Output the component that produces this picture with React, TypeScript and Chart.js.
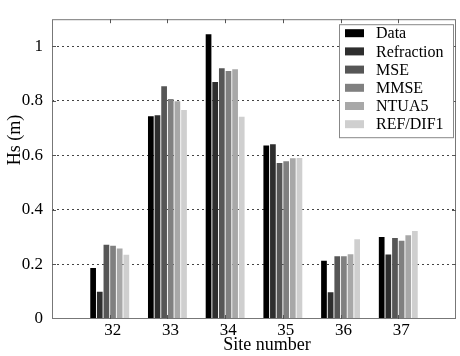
import { useEffect, useRef } from "react";
import { Chart, registerables } from "chart.js";

Chart.register(...registerables);

const sites = [32, 33, 34, 35, 36, 37];
const seriesNames = ["Data", "Refraction", "MSE", "MMSE", "NTUA5", "REF/DIF1"];
const dataValues = [0.187, 0.744, 1.045, 0.637, 0.214, 0.301];
const refractionValues = [0.1, 0.748, 0.87, 0.641, 0.098, 0.237];
const mseValues = [0.272, 0.854, 0.92, 0.572, 0.23, 0.297];
const mmseValues = [0.269, 0.807, 0.91, 0.579, 0.23, 0.287];
const ntua5Values = [0.259, 0.799, 0.916, 0.59, 0.238, 0.307];
const refdifValues = [0.236, 0.767, 0.742, 0.591, 0.293, 0.323];
const seriesColors = ["#000000", "#2e2e2e", "#565656", "#808080", "#a8a8a8", "#cfcfcf"];
const xTitle = "Site number";
const yTitle = "Hs (m)";

const FONT = "'Liberation Serif', 'DejaVu Serif', serif";

const overlayPlugin = {
  id: "overlay",
  afterDraw(chart: any) {
    const ctx = chart.ctx;
    const { left, right, top, bottom } = chart.chartArea;
    ctx.save();
    // frame
    ctx.strokeStyle = "#777";
    ctx.lineWidth = 1;
    ctx.strokeRect(left + 0.5, top + 0.5, right - left - 1, bottom - top - 1);
    // inward ticks
    ctx.strokeStyle = "#555";
    const ys = chart.scales.y;
    const xs = chart.scales.x;
    ys.ticks.forEach((t: any) => {
      if (t.value <= 0 || t.value > 1.05) return;
      const py = Math.round(ys.getPixelForValue(t.value)) + 0.5;
      ctx.beginPath();
      ctx.moveTo(left, py);
      ctx.lineTo(left + 4, py);
      ctx.moveTo(right, py);
      ctx.lineTo(right - 4, py);
      ctx.stroke();
    });
    sites.forEach((s) => {
      const px = Math.round(xs.getPixelForValue(s)) + 0.5;
      ctx.beginPath();
      ctx.moveTo(px, top);
      ctx.lineTo(px, top + 4);
      ctx.moveTo(px, bottom);
      ctx.lineTo(px, bottom - 4);
      ctx.stroke();
    });
    // legend
    const bx = right - 117;
    const by = top + 5;
    const bw = 115;
    const bh = 114;
    ctx.fillStyle = "#fff";
    ctx.fillRect(bx, by, bw, bh);
    ctx.strokeStyle = "#888";
    ctx.strokeRect(bx + 0.5, by + 0.5, bw - 1, bh - 1);
    ctx.font = `16px ${FONT}`;
    ctx.textBaseline = "middle";
    ctx.textAlign = "left";
    chart.data.datasets.forEach((ds: any, i: number) => {
      const cy = by + 9 + i * 18.2;
      ctx.fillStyle = ds.backgroundColor;
      ctx.fillRect(bx + 6, cy - 4, 19, 8);
      ctx.fillStyle = "#000";
      ctx.fillText(ds.label, bx + 37, cy + 1);
    });
    // axis titles
    ctx.fillStyle = "#000";
    ctx.font = `18px ${FONT}`;
    ctx.textAlign = "center";
    ctx.textBaseline = "alphabetic";
    ctx.fillText(xTitle, (left + right) / 2 + 13, 350);
    ctx.translate(20, 140);
    ctx.rotate(-Math.PI / 2);
    ctx.fillText(yTitle, 0, 0);
    ctx.restore();
  },
};

export default function App() {
  const ref = useRef<HTMLCanvasElement | null>(null);
  useEffect(() => {
    document.body.style.margin = "0";
    const seriesValues = [dataValues, refractionValues, mseValues, mmseValues, ntua5Values, refdifValues];
    const chart = new Chart(ref.current as HTMLCanvasElement, {
      type: "bar",
      data: {
        datasets: seriesNames.map((name, i) => ({
          label: name,
          data: sites.map((s, j) => ({ x: s, y: seriesValues[i][j] })),
          backgroundColor: seriesColors[i],
          borderWidth: 0,
          barPercentage: 0.86,
          categoryPercentage: 0.69,
        })),
      },
      options: {
        animation: false,
        responsive: false,
        maintainAspectRatio: false,
        layout: { padding: { top: 0, right: 4, left: 0, bottom: 0 } },
        plugins: { legend: { display: false }, tooltip: { enabled: false } },
        scales: {
          x: {
            type: "linear",
            min: 31,
            max: 38,
            offset: false,
            grid: { display: false, drawTicks: false },
            border: { display: false },
            afterFit: (s: any) => {
              s.height = 37;
            },
            ticks: {
              stepSize: 1,
              padding: 1,
              labelOffset: 3,
              maxRotation: 0,
              autoSkip: false,
              color: "#000",
              font: { family: FONT, size: 17 },
              callback: (v: any) => (sites.includes(Number(v)) ? String(v) : ""),
            },
          },
          y: {
            type: "linear",
            min: 0,
            max: 1.1,
            grid: {
              drawTicks: false,
              color: (c: any) => (c.tick && c.tick.value > 0 && c.tick.value < 1.05 ? "#444" : "rgba(0,0,0,0)"),
              lineWidth: 1,
            },
            border: { display: false, dash: [2, 3] },
            afterFit: (s: any) => {
              s.width = 52;
            },
            ticks: {
              stepSize: 0.2,
              includeBounds: false,
              padding: 9,
              color: "#000",
              font: { family: FONT, size: 17 },
              callback: (v: any) => String(Math.round(Number(v) * 10) / 10),
            },
          },
        },
      },
      plugins: [overlayPlugin],
    } as any);
    return () => chart.destroy();
  }, []);
  return (
    <div style={{ width: 460, height: 356 }}>
      <canvas ref={ref} width={460} height={356} />
    </div>
  );
}
